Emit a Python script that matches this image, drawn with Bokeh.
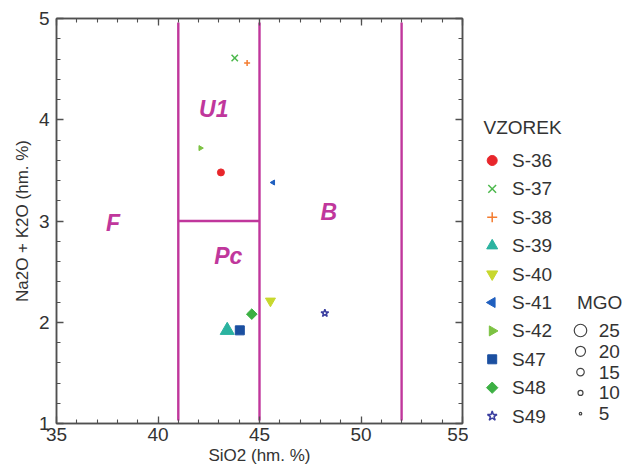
import math
from bokeh.plotting import figure
from bokeh.layouts import row
from bokeh.models import LinearAxis, SingleIntervalTicker, Range1d
from bokeh.core.properties import value
from bokeh.embed import file_html
from bokeh.resources import INLINE

# ---------------- data ----------------
samples = ["S-36", "S-37", "S-38", "S-39", "S-40", "S-41", "S-42", "S47", "S48", "S49"]
sio2 = [43.10, 43.78, 44.39, 43.41, 45.54, 45.67, 42.09, 44.03, 44.62, 48.22]
alkali = [3.48, 4.61, 4.56, 1.92, 2.21, 3.38, 3.72, 1.92, 2.08, 2.09]
mgo = [14, 18, 12, 28, 20, 10, 10, 18, 15, 16]
# "square" rotated by 45 degrees gives the even diamond of the reference
markers = ["circle", "x", "cross", "triangle", "inverted_triangle", "triangle",
           "triangle", "square", "square", "star"]
angles = [0, 0, 0, 0, 0, math.pi / 2, -math.pi / 2, 0, math.pi / 4, 0]
colors = ["#e8262b", "#4cb84c", "#f47c30", "#2bb3a0", "#c8d82e", "#1f5fbf",
          "#7cc242", "#1b4fa0", "#3cb043", "#3b3fa0"]

mgo_levels = [25, 20, 15, 10, 5]

bound_x0 = [41, 45, 52, 41]
bound_y0 = [1.03, 1.03, 1.03, 3.0]
bound_x1 = [41, 45, 52, 45]
bound_y1 = [4.96, 4.96, 4.96, 3.0]

field_names = ["F", "U1", "Pc", "B"]
field_x = [37.79, 42.75, 43.46, 48.41]
field_y = [2.98, 4.11, 2.65, 3.09]

FONT = "Liberation Sans"
TXT = "#333333"
MAG = "#c0379c"
AX = "#505050"


def msize(m):
    return 0.5 * m


# ---------------- main plot ----------------
p = figure(width=468, height=472, x_range=Range1d(35, 55), y_range=Range1d(1, 5),
           output_backend="svg", toolbar_location=None,
           min_border_left=56, min_border_right=6, min_border_top=18, min_border_bottom=49,
           x_axis_label="SiO2 (hm. %)", y_axis_label="Na2O + K2O (hm. %)")
p.grid.visible = False
p.outline_line_color = AX
p.outline_line_width = 1.5
p.background_fill_color = "white"
p.border_fill_color = "white"

p.add_layout(LinearAxis(), "above")
p.add_layout(LinearAxis(), "right")

for ax in p.xaxis:
    ax.ticker = SingleIntervalTicker(interval=5, num_minor_ticks=5)
for ax in p.yaxis:
    ax.ticker = SingleIntervalTicker(interval=1, num_minor_ticks=5)

for ax in p.axis:
    ax.axis_line_color = AX
    ax.axis_line_width = 1.5
    ax.major_tick_line_color = AX
    ax.minor_tick_line_color = AX
    ax.major_tick_line_width = 1.3
    ax.minor_tick_line_width = 1.1
    ax.major_tick_in = 7
    ax.major_tick_out = 0
    ax.minor_tick_in = 4
    ax.minor_tick_out = 0
    ax.major_label_text_font = FONT
    ax.major_label_text_color = TXT
    ax.major_label_text_font_size = "19px"
    ax.axis_label_text_font = FONT
    ax.axis_label_text_color = TXT
    ax.axis_label_text_font_style = "normal"
    ax.axis_label_text_font_size = "17px"

for ax in (p.above[0], p.right[0]):
    ax.major_label_text_font_size = "1px"
    ax.major_label_text_color = None
    ax.major_label_standoff = 0

p.below[0].major_label_standoff = 4
p.below[0].axis_label_standoff = 2
p.left[0].major_label_standoff = 7
p.left[0].axis_label_standoff = 4

# field boundaries
p.segment(x0=bound_x0, y0=bound_y0, x1=bound_x1, y1=bound_y1,
          line_color=MAG, line_width=2.4)

# field labels
p.text(x=field_x, y=field_y, text=field_names, text_font=value(FONT),
       text_font_style="bold italic", text_font_size="23px", text_color=MAG,
       text_align="center", text_baseline="middle")

# samples
for i in range(len(samples)):
    hollow = markers[i] == "star"
    p.scatter(x=[sio2[i]], y=[alkali[i]], marker=markers[i], size=msize(mgo[i]),
              angle=angles[i], fill_color=None if hollow else colors[i],
              line_color=colors[i], line_width=1.5 if markers[i] in ("x", "cross", "star") else 1)

# ---------------- legend panel ----------------
# In a row, Bokeh aligns the frames of the figures: this panel's frame spans
# the same vertical pixels (18..423) as the main plot's frame.
SW = 161
s = figure(width=SW, height=472, x_range=Range1d(0, SW), y_range=Range1d(423, 18),
           output_backend="svg", toolbar_location=None,
           min_border_left=0, min_border_right=0, min_border_top=18, min_border_bottom=49)
s.axis.visible = False
s.grid.visible = False
s.outline_line_color = None
s.background_fill_color = "white"
s.border_fill_color = "white"

row_y = [160 + 28.4 * i for i in range(len(samples))]
leg_sizes = [10, 11, 10, 11, 11, 10, 10, 9, 8, 10]
s.text(x=[15], y=[127], text=["VZOREK"], text_font=value(FONT), text_font_size="19px",
       text_color=TXT, text_align="left", text_baseline="middle")
for i in range(len(samples)):
    hollow = markers[i] == "star"
    s.scatter(x=[23.7], y=[row_y[i]], marker=markers[i], size=leg_sizes[i],
              angle=angles[i], fill_color=None if hollow else colors[i],
              line_color=colors[i], line_width=1.5 if markers[i] in ("x", "cross", "star") else 1)
s.text(x=[43.5] * len(samples), y=row_y, text=samples, text_font=value(FONT),
       text_font_size="19px", text_color=TXT, text_align="left", text_baseline="middle")

mgo_y = [330 + 20.8 * i for i in range(len(mgo_levels))]
s.text(x=[108.5], y=[301.7], text=["MGO"], text_font=value(FONT), text_font_size="19px",
       text_color=TXT, text_align="left", text_baseline="middle")
s.scatter(x=[112] * len(mgo_levels), y=mgo_y, marker="circle",
          size=[msize(m) for m in mgo_levels], fill_color=None,
          line_color="#444444", line_width=1.2)
s.text(x=[130.3] * len(mgo_levels), y=mgo_y, text=[str(m) for m in mgo_levels],
       text_font=value(FONT), text_font_size="19px", text_color=TXT,
       text_align="left", text_baseline="middle")

layout = row(p, s, spacing=0)
open("out.html", "w").write(file_html(layout, INLINE))
